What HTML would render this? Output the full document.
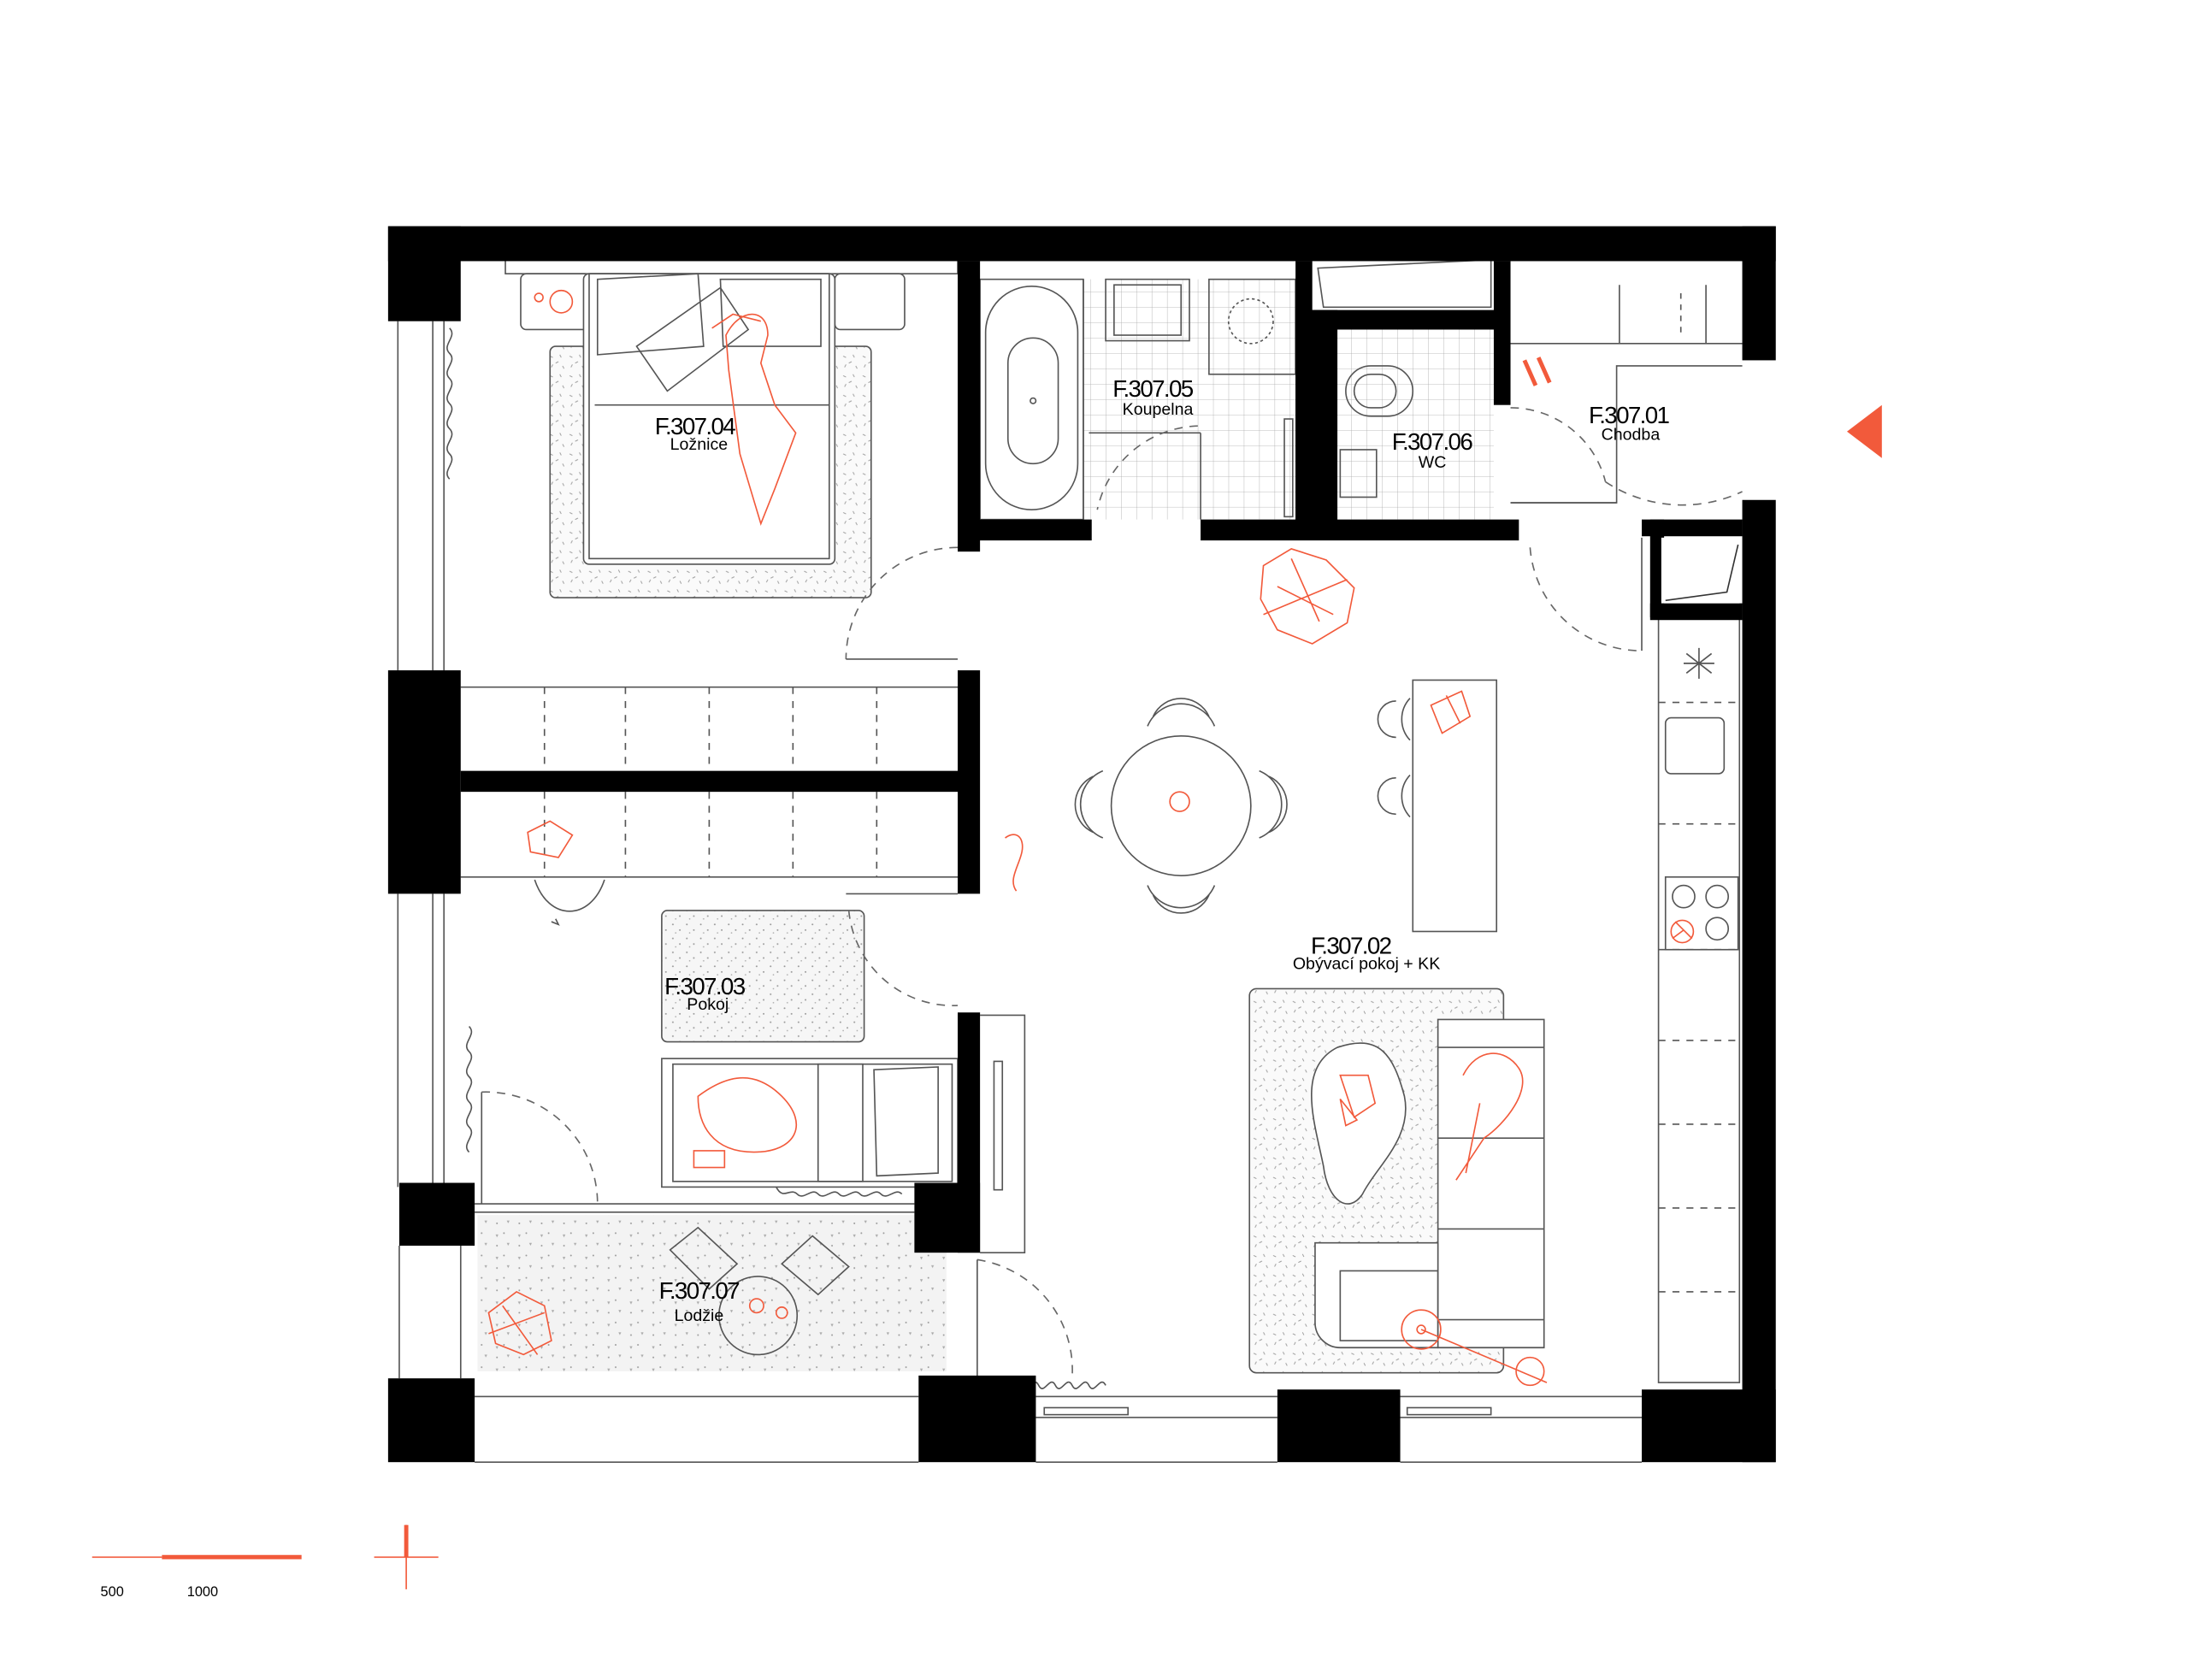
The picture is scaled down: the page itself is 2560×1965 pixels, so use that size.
<!DOCTYPE html>
<html><head><meta charset="utf-8"><style>
html,body{margin:0;padding:0;background:#fff}
svg{display:block}
text{font-family:"Liberation Sans",sans-serif}
</style></head><body>
<svg width="2560" height="1965" viewBox="0 0 1568 1203" preserveAspectRatio="none" xmlns="http://www.w3.org/2000/svg">
<defs>
<pattern id="rug" width="14" height="14" patternUnits="userSpaceOnUse">
<rect width="14" height="14" fill="#fafafa"/>
<path d="M2 3l2 1M9 2l1 2M6 8l2-1M11 10l1 2M3 11l1-2" stroke="#9a9a9a" stroke-width="0.6"/>
</pattern>
<pattern id="dots" width="10" height="10" patternUnits="userSpaceOnUse">
<rect width="10" height="10" fill="#f6f6f6"/>
<circle cx="2" cy="2" r="0.6" fill="#999"/><circle cx="7" cy="6" r="0.6" fill="#999"/><circle cx="4" cy="8" r="0.5" fill="#aaa"/>
</pattern>
<pattern id="loggia" width="16" height="16" patternUnits="userSpaceOnUse">
<rect width="16" height="16" fill="#f3f3f3"/>
<path d="M3 4l2 0-1 2zM11 10l2 0-1 2z" fill="#aaa"/><circle cx="9" cy="3" r="0.6" fill="#999"/><circle cx="4" cy="12" r="0.6" fill="#999"/>
</pattern>
<pattern id="tile" width="11" height="11" patternUnits="userSpaceOnUse">
<rect width="11" height="11" fill="#fff"/><path d="M0 0H11M0 0V11" stroke="#aaa" stroke-width="0.5"/>
</pattern>
</defs>
<g fill="none" stroke="#555" stroke-width="1">
<rect x="776" y="200" width="152" height="172" fill="url(#tile)" stroke="none"/>
<rect x="958" y="236" width="112" height="136" fill="url(#tile)" stroke="none"/>
<rect x="394" y="248" width="230" height="180" rx="4" fill="url(#rug)"/>
<rect x="474" y="652" width="145" height="94" rx="4" fill="url(#dots)"/>
<rect x="895" y="708" width="182" height="275" rx="5" fill="url(#rug)"/>
<rect x="342" y="870" width="336" height="112" fill="url(#loggia)" stroke="none"/>
<path d="M285 230V480M310 230V480M318 230V480M285 640V850M310 640V850M318 640V850M286 892V987M330 892V987"/>
<path d="M742 1000H915M742 1015H915M1003 1000H1176M1003 1015H1176M742 1047H915M1003 1047H1176M340 1000H658M340 1047H658"/>
<rect x="748" y="1008" width="60" height="5"/><rect x="1008" y="1008" width="60" height="5"/>
<path d="M340 868H655M340 862H655"/>
<path d="M330 492H686M330 628H686M606 640H686"/>
<path d="M390 492V552M448 492V552M508 492V552M568 492V552M628 492V552M390 567V628M448 567V628M508 567V628M568 567V628M628 567V628" stroke-dasharray="5 5"/>
<rect x="362" y="186" width="324" height="10"/>
<rect x="373" y="196" width="50" height="40" rx="4"/><rect x="598" y="196" width="50" height="40" rx="4"/>
<rect x="418" y="196" width="180" height="208" rx="4" fill="#fff"/>
<rect x="422" y="196" width="172" height="204"/>
<path d="M426 290H594"/>
<path d="M428 200l72-4 4 52-76 6zM456 248l60-42 20 30-58 44zM516 200h72v48h-70z" fill="#fff"/>
<rect x="702" y="200" width="74" height="172"/>
<rect x="706" y="205" width="66" height="160" rx="33"/>
<rect x="722" y="242" width="36" height="90" rx="18"/>
<circle cx="740" cy="287" r="2"/>
<rect x="792" y="200" width="60" height="44"/><rect x="798" y="204" width="48" height="36"/>
<rect x="866" y="200" width="62" height="68"/><circle cx="896" cy="230" r="16" stroke-dasharray="2 2"/>
<path d="M776 200V372M860 310V372M780 310H860"/>
<rect x="920" y="300" width="6" height="70"/>
<path d="M944 192l4 28h120V186z"/>
<rect x="964" y="262" width="48" height="36" rx="18"/><rect x="970" y="268" width="30" height="24" rx="12"/>
<rect x="960" y="322" width="26" height="34"/>
<path d="M1082 246H1248M1160 204V246M1222 204V246" />
<path d="M1204 210V240" stroke-dasharray="4 4"/>
<path d="M1082 360H1158V262H1248" />
<rect x="1188" y="442" width="58" height="548"/>
<path d="M1188 503H1246M1188 590H1246M1188 680H1246M1188 745H1246M1188 805H1246M1188 865H1246M1188 925H1246" stroke-dasharray="5 5"/>
<rect x="1193" y="514" width="42" height="40" rx="4"/>
<rect x="1193" y="628" width="52" height="52"/>
<circle cx="1206" cy="642" r="8"/><circle cx="1230" cy="642" r="8"/><circle cx="1230" cy="665" r="8"/>
<path d="M1208 468l18 14M1226 468l-18 14M1217 464v22M1206 475h22"/>
<rect x="1012" y="487" width="60" height="180"/>
<path d="M1010 500a22 22 0 0 0 0 30M1000 502a12 12 0 0 0 0 26M1010 555a22 22 0 0 0 0 30M1000 557a12 12 0 0 0 0 26"/>
<circle cx="846" cy="577" r="50" fill="#fff"/>
<path d="M822 520a26 26 0 0 1 48 0M826 513a22 22 0 0 1 40 0M822 634a26 26 0 0 0 48 0M826 641a22 22 0 0 0 40 0M790 552a26 26 0 0 0 0 48M783 556a22 22 0 0 0 0 40M902 552a26 26 0 0 1 0 48M909 556a22 22 0 0 1 0 40"/>
<path d="M1030 730h76v20h-76zM1030 750h76v65h-76zM1030 815h76v65h-76zM1030 880h76v65h-76zM1030 945h76v20h-76z" fill="#fff"/>
<path d="M942 890h88v75h-70a18 18 0 0 1-18-18z" fill="#fff"/>
<path d="M960 910h70v50h-70z"/>
<path d="M958 750c30-10 40 5 48 35 6 30-20 50-30 70-10 15-25 5-28-20-6-30-20-70 10-85z" fill="#fff"/>
<rect x="474" y="758" width="212" height="92"/>
<rect x="482" y="762" width="200" height="84"/>
<path d="M586 762h32v84h-32zM626 766l46-2 0 76-44 2z" fill="#fff"/>
<path d="M556 850c5 10 10 0 15 5s10-5 15 0 10-5 15 0 10-5 15 0 10-5 15 0 10-5 15 0"/>
<path d="M702 727h32v170h-32"/><rect x="712" y="760" width="6" height="92"/>
<circle cx="543" cy="942" r="28"/>
<path d="M480 895l20-16 28 26-20 18zM560 905l22-20 26 22-22 20z"/>
<path d="M383 630c10 30 40 30 50 0M395 660l5 2 -2-4"/>
<g stroke-dasharray="6 5" stroke="#666">
<path d="M686 392A80 80 0 0 0 606 472"/>
<path d="M858 305A76 76 0 0 0 786 365"/>
<path d="M1082 292A70 70 0 0 1 1150 345"/>
<path d="M1150 345A100 100 0 0 0 1248 352"/>
<path d="M1096 392A80 80 0 0 0 1176 466"/>
<path d="M608 652A75 75 0 0 0 686 720"/>
<path d="M345 782A80 80 0 0 1 428 862"/>
<path d="M700 902A80 80 0 0 1 768 986"/>
</g>
<path d="M606 472h80M1176 466V385M1082 360h76M345 782v80M700 902v84"/>
<path d="M322 235c6 6-6 12 0 18s-6 12 0 18-6 12 0 18-6 12 0 18-6 12 0 18-6 12 0 18"/>
<path d="M336 735c6 6-6 12 0 18s-6 12 0 18-6 12 0 18-6 12 0 18-6 12 0 18"/>
<path d="M708 992c4-8 8-8 12 0s8-8 12 0 8-8 12 0 8-8 12 0 8-8 12 0 8-8 12 0 8-8 12 0"/>
</g>
<g fill="#000">
<rect x="278" y="162" width="994" height="25"/>
<rect x="278" y="162" width="52" height="68"/>
<rect x="1248" y="162" width="24" height="96"/>
<rect x="278" y="480" width="52" height="160"/>
<rect x="330" y="552" width="370" height="15"/>
<rect x="686" y="187" width="16" height="208"/>
<rect x="686" y="480" width="16" height="160"/>
<rect x="686" y="372" width="96" height="15"/>
<rect x="860" y="372" width="228" height="15"/>
<rect x="928" y="187" width="12" height="190"/>
<rect x="928" y="222" width="30" height="155"/>
<rect x="940" y="222" width="140" height="14"/>
<rect x="1070" y="187" width="12" height="103"/>
<rect x="1248" y="358" width="24" height="689"/>
<rect x="1176" y="372" width="72" height="12"/>
<rect x="1182" y="372" width="10" height="70"/>
<rect x="1182" y="432" width="66" height="12"/>
<rect x="286" y="847" width="54" height="45"/>
<rect x="655" y="847" width="47" height="50"/>
<rect x="686" y="725" width="16" height="172"/>
<rect x="278" y="987" width="62" height="60"/>
<rect x="658" y="985" width="84" height="62"/>
<rect x="915" y="995" width="88" height="52"/>
<rect x="1176" y="995" width="96" height="52"/>
</g>
<rect x="1190" y="385" width="56" height="47" fill="#fff"/>
<path d="M1193 430l44-6 8-34" fill="none" stroke="#333"/>
<rect x="1172" y="192" width="72" height="8" fill="#fff"/>
<g fill="none" stroke="#f25a3b" stroke-width="1">
<path d="M520 240c10-20 30-20 30 0l-5 20 10 30 15 20-15 40-10 25-15-50 -8-60z"/>
<path d="M510 235l15-10 20 5"/>
<circle cx="402" cy="216" r="8"/><circle cx="386" cy="213" r="3"/>
<path d="M905 405l20-12 25 8 20 20-5 25-25 15-25-10-12-22z"/>
<path d="M915 420l40 20M925 400l20 45M905 440l60-25"/>
<circle cx="845" cy="574" r="7"/>
<path d="M1025 505l22-10 6 18-20 12zM1036 498l10 20"/>
<path d="M378 596l16-8 16 10-10 16-20-4z"/>
<path d="M720 600c8-6 14 0 12 10s-10 20-4 28"/>
<path d="M500 785c20-15 40-20 60 0s10 40-20 40-40-20-40-40z"/>
<rect x="497" y="824" width="22" height="12"/>
<path d="M1048 770c10-20 30-20 40-5s-10 40-25 50l-20 30M1060 790l-10 50"/>
<path d="M960 770l20 0 5 20-15 10z"/>
<circle cx="1018" cy="952" r="14"/><circle cx="1018" cy="952" r="3"/><path d="M1018 952l90 38"/>
<circle cx="1096" cy="982" r="10"/>
<path d="M1092 258l8 18M1102 256l8 18" stroke-width="3"/>
<path d="M350 940l20-15 20 10 5 25-20 10-20-8z"/>
<path d="M360 935l25 35M350 955l40-15"/>
<circle cx="542" cy="935" r="5"/><circle cx="560" cy="940" r="4"/>
<path d="M1200 660l12 12M1206 666l-8 6"/><circle cx="1205" cy="667" r="8"/>
<path d="M960 787l12 15 -8 4z"/>
</g>
<polygon points="1323,309 1348,290 1348,328" fill="#f25a3b"/>
<g fill="#000">
<text x="469" y="311" font-size="17" letter-spacing="-1">F.307.04</text><text x="480" y="322" font-size="12">Ložnice</text>
<text x="797" y="284" font-size="17" letter-spacing="-1">F.307.05</text><text x="804" y="297" font-size="12">Koupelna</text>
<text x="997" y="322" font-size="17" letter-spacing="-1">F.307.06</text><text x="1016" y="335" font-size="12">WC</text>
<text x="1138" y="303" font-size="17" letter-spacing="-1">F.307.01</text><text x="1147" y="315" font-size="12">Chodba</text>
<text x="939" y="683" font-size="17" letter-spacing="-1">F.307.02</text><text x="926" y="694" font-size="12">Obývací pokoj + KK</text>
<text x="476" y="712" font-size="17" letter-spacing="-1">F.307.03</text><text x="492" y="723" font-size="12">Pokoj</text>
<text x="472" y="930" font-size="17" letter-spacing="-1">F.307.07</text><text x="483" y="946" font-size="12">Lodžie</text>
<text x="72" y="1143" font-size="10">500</text><text x="134" y="1143" font-size="10">1000</text>
</g>
<path d="M66 1115H116" stroke="#f25a3b" stroke-width="1"/>
<path d="M116 1115H216" stroke="#f25a3b" stroke-width="3"/>
<path d="M268 1115H314M291 1092V1138" stroke="#f25a3b" stroke-width="1"/>
<path d="M291 1092V1115" stroke="#f25a3b" stroke-width="3"/>
</svg>
</body></html>
